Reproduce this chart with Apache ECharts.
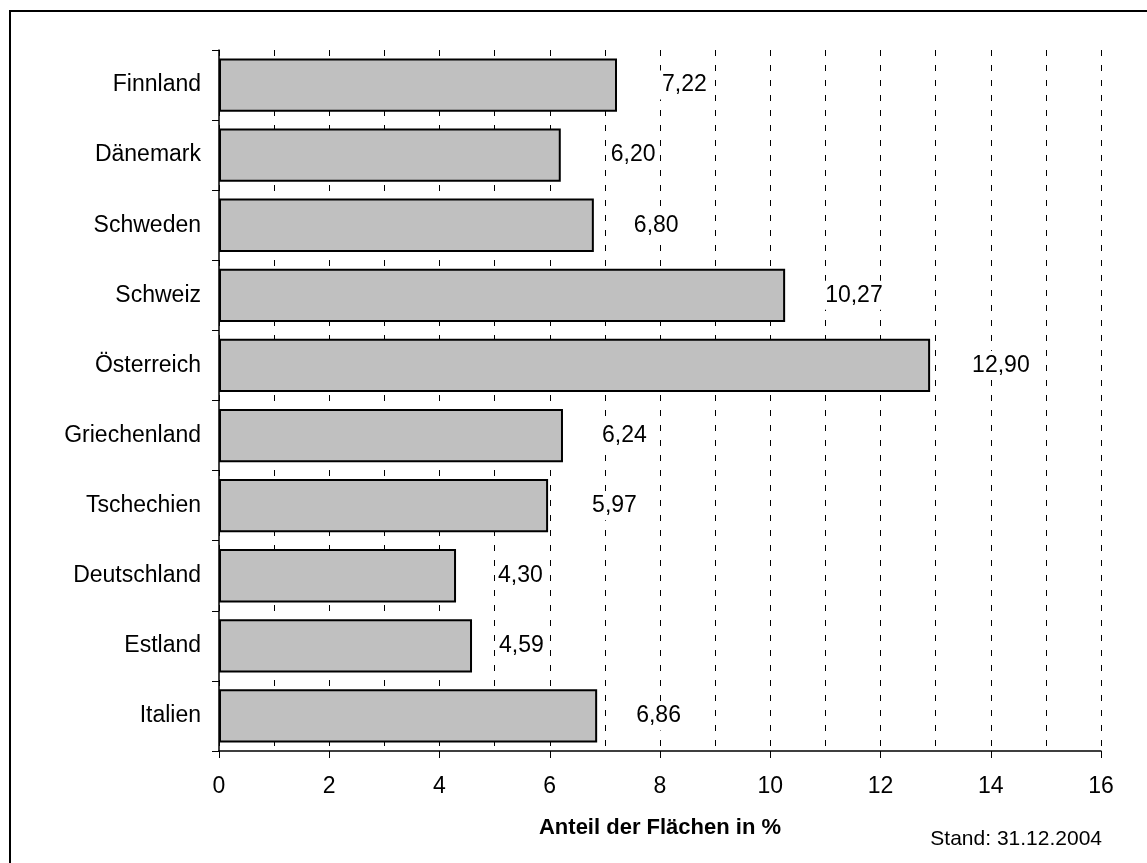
<!DOCTYPE html>
<html>
<head>
<meta charset="utf-8">
<script src="https://cdn.jsdelivr.net/npm/echarts@6/dist/echarts.min.js"></script>
<style>
  html, body { margin: 0; padding: 0; background: #fff; }
  #chart { width: 1147px; height: 863px; }
</style>
</head>
<body>
<div id="chart"></div>
<script>
// Countries, top to bottom
const countries = ['Finnland', 'Dänemark', 'Schweden', 'Schweiz', 'Österreich',
  'Griechenland', 'Tschechien', 'Deutschland', 'Estland', 'Italien'];
// Share of protected area in percent
const shares = [7.22, 6.20, 6.80, 10.27, 12.90, 6.24, 5.97, 4.30, 4.59, 6.86];
// Value axis range and tick step
const axisMin = 0;
const axisMax = 16;
const axisStep = 2;

const axisTitle = 'Anteil der Flächen in %';
const footnote = 'Stand: 31.12.2004';

// Gap (px) between each bar end and its value label
const labelGap = [43, 48, 38, 38, 40, 37, 42, 40, 25, 37];

const FONT = '"Liberation Sans", Arial, sans-serif';
const dash = { color: '#000', width: 1, type: [6, 9] };

const chart = echarts.init(document.getElementById('chart'), null, { renderer: 'canvas' });

chart.setOption({
  animation: false,
  backgroundColor: '#fff',
  textStyle: { fontFamily: FONT },
  grid: { left: 219, right: 46, top: 50, bottom: 112, containLabel: false },
  xAxis: {
    type: 'value',
    min: axisMin,
    max: axisMax,
    interval: axisStep,
    name: axisTitle,
    nameLocation: 'middle',
    nameGap: 66,
    nameTextStyle: { fontFamily: FONT, fontSize: 22, fontWeight: 'bold', color: '#000' },
    axisLine: { show: true, lineStyle: { color: '#000', width: 1.5 } },
    axisTick: { show: true, length: 7, lineStyle: { color: '#000', width: 1 } },
    axisLabel: { fontFamily: FONT, fontSize: 23, color: '#000', margin: 24 },
    splitLine: { show: true, lineStyle: dash },
    minorTick: { show: false, splitNumber: 2 },
    minorSplitLine: { show: true, lineStyle: dash }
  },
  yAxis: {
    type: 'category',
    data: countries,
    inverse: true,
    axisLine: { show: true, lineStyle: { color: '#000', width: 1.5 } },
    axisTick: { show: true, length: 7, lineStyle: { color: '#000', width: 1 } },
    axisLabel: { fontFamily: FONT, fontSize: 23, color: '#000', margin: 18 },
    splitLine: { show: false }
  },
  series: [{
    type: 'bar',
    barCategoryGap: '24%',
    itemStyle: { color: '#c0c0c0', borderColor: '#000', borderWidth: 2 },
    label: {
      show: true,
      position: 'right',
      fontFamily: FONT,
      fontSize: 23,
      color: '#000',
      backgroundColor: '#fff',
      padding: [3, 2],
      formatter: p => p.value.toFixed(2).replace('.', ',')
    },
    data: shares.map((v, i) => ({ value: v, label: { distance: labelGap[i] } })),
    z: 3
  }],
  graphic: [
    {
      type: 'rect',
      shape: { x: 10, y: 11, width: 1160, height: 880 },
      style: { fill: null, stroke: '#000', lineWidth: 2 },
      silent: true
    },
    {
      type: 'text',
      x: 1102,
      y: 850,
      style: {
        text: footnote,
        fontFamily: FONT,
        fontSize: 21,
        fill: '#000',
        align: 'right',
        verticalAlign: 'bottom'
      }
    }
  ]
});
</script>
</body>
</html>
